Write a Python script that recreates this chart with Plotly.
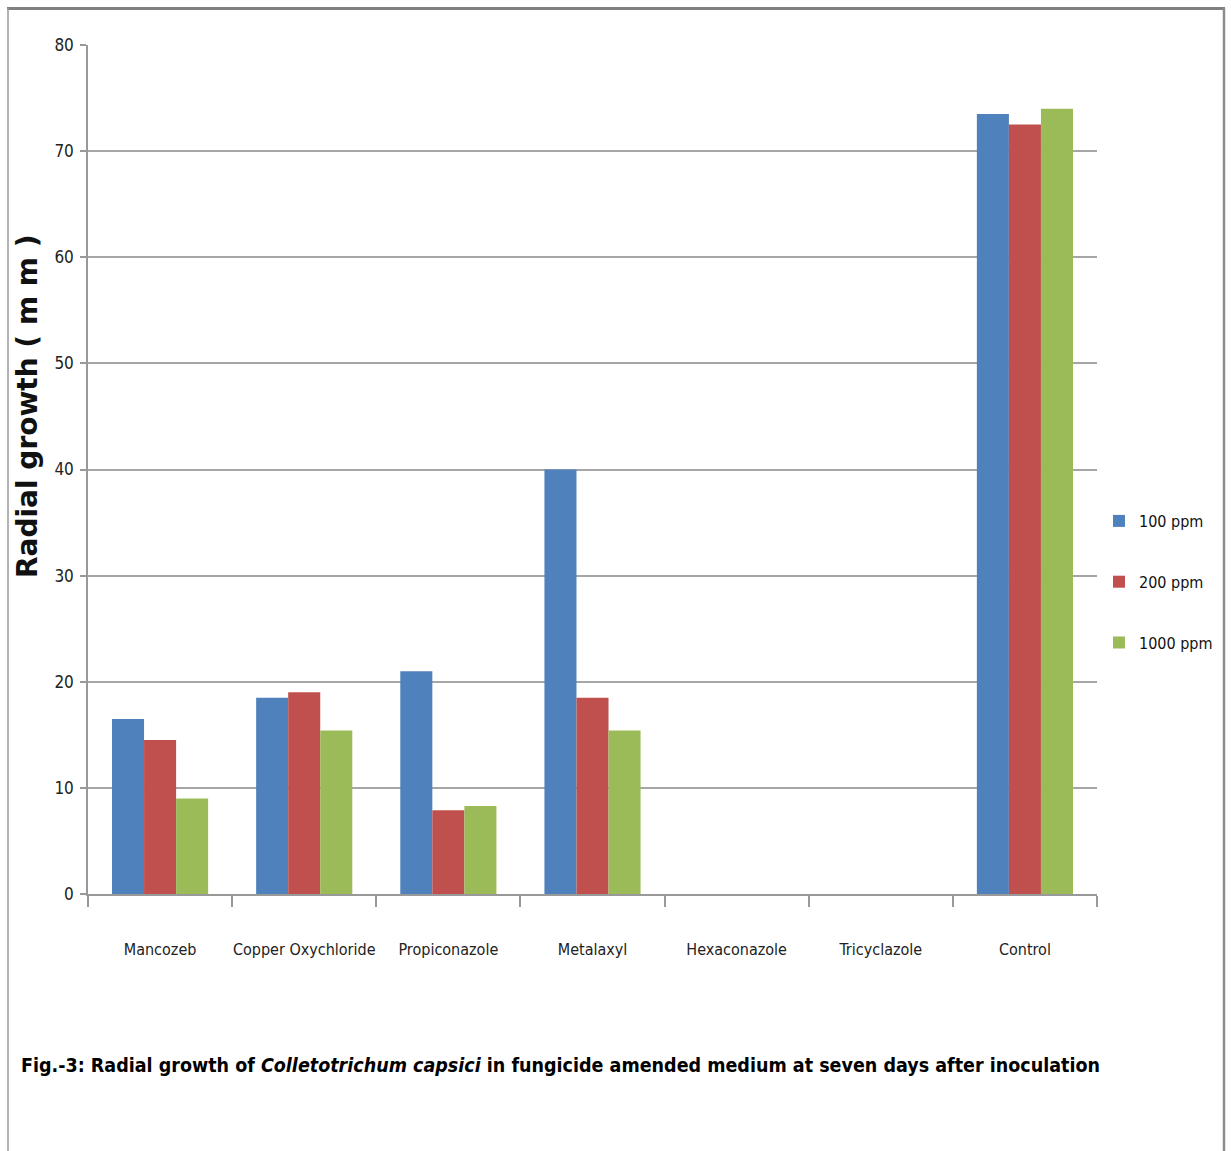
import plotly.graph_objects as go

# Fungicide treatments and radial growth (mm) at three concentrations
fungicides = ["Mancozeb", "Copper Oxychloride", "Propiconazole", "Metalaxyl",
              "Hexaconazole", "Tricyclazole", "Control"]
growth_100ppm = [16.5, 18.5, 21.0, 40.0, 0, 0, 73.5]
growth_200ppm = [14.5, 19.0, 7.9, 18.5, 0, 0, 72.5]
growth_1000ppm = [9.0, 15.4, 8.3, 15.4, 0, 0, 74.0]
series_names = ["100 ppm", "200 ppm", "1000 ppm"]
y_ticks = [0, 10, 20, 30, 40, 50, 60, 70, 80]

colors = ["#4F81BD", "#C0504D", "#9BBB59"]
narrow = "Liberation Sans Narrow, DejaVu Sans Condensed, Liberation Sans, Arial, sans-serif"

W, H = 1231, 1151
L, R, T, B = 88, 1097, 45, 894  # plot-area edges in pixels


def px_x(x):
    return (x - L) / (R - L)


def px_y(y):
    return (B - y) / (B - T)


fig = go.Figure()
for i, (name, vals) in enumerate(zip(series_names,
                                     [growth_100ppm, growth_200ppm, growth_1000ppm])):
    fig.add_trace(go.Bar(
        x=fungicides, y=vals, name=name,
        marker=dict(color=colors[i], line=dict(width=0)),
        legendgroup=name,
    ))

fig.update_layout(
    width=W, height=H,
    margin=dict(l=L, r=W - R, t=T, b=H - B, pad=0, autoexpand=False),
    paper_bgcolor="white", plot_bgcolor="white",
    barmode="group", bargap=0.333, bargroupgap=0,
    showlegend=True,
    legend=dict(
        x=px_x(1099), xanchor="left",
        y=px_y(504), yanchor="top",
        font=dict(family=narrow, size=16, color="#111111"),
        tracegroupgap=37, itemwidth=30,
        bgcolor="rgba(0,0,0,0)",
    ),
    font=dict(family=narrow, color="#222222"),
)

fig.update_xaxes(
    type="category",
    showline=True, linecolor="#999999", linewidth=1.5,
    ticks="outside", tickson="boundaries", ticklen=11,
    tickcolor="#999999", tickwidth=1.5,
    tickfont=dict(family=narrow, size=16, color="#222222"),
    tickangle=0,
    ticklabelstandoff=40,
    showgrid=False,
)

fig.update_yaxes(
    range=[0, 80], tickvals=y_ticks,
    showline=True, linecolor="#999999", linewidth=1.5,
    ticks="outside", ticklen=6, tickcolor="#999999", tickwidth=1.5,
    showgrid=True, gridcolor="#A6A6A6", gridwidth=1.5,
    zeroline=False,
    tickfont=dict(family=narrow, size=17, color="#222222"),
    ticklabelstandoff=3,
)

# Y-axis title
fig.add_annotation(
    xref="paper", yref="paper",
    x=px_x(27), y=px_y(406), xanchor="center", yanchor="middle",
    text="<b>Radial growth ( m m )</b>", textangle=-90, showarrow=False,
    font=dict(family="DejaVu Sans, Verdana, sans-serif", size=28, color="#111111"),
)

# Figure caption
fig.add_annotation(
    xref="paper", yref="paper",
    x=px_x(19), y=px_y(1065), xanchor="left", yanchor="middle",
    text="<b>Fig.-3: Radial growth of <i>Colletotrichum capsici</i> in fungicide "
         "amended medium at seven days after inoculation</b>",
    showarrow=False,
    font=dict(family=narrow, size=19.5, color="#000000"),
)

# Frame around the figure
frame = [
    dict(x0=px_x(7), x1=px_x(1225), y0=px_y(8.5), y1=px_y(8.5), w=3, c="#808080"),
    dict(x0=px_x(8), x1=px_x(8), y0=px_y(8), y1=px_y(H), w=1.5, c="#9A9A9A"),
    dict(x0=px_x(1224), x1=px_x(1224), y0=px_y(8), y1=px_y(H), w=2.5, c="#8C8C8C"),
]
for s in frame:
    fig.add_shape(type="line", xref="paper", yref="paper",
                  x0=s["x0"], x1=s["x1"], y0=s["y0"], y1=s["y1"],
                  line=dict(color=s["c"], width=s["w"]))

fig.write_html("out.html")
